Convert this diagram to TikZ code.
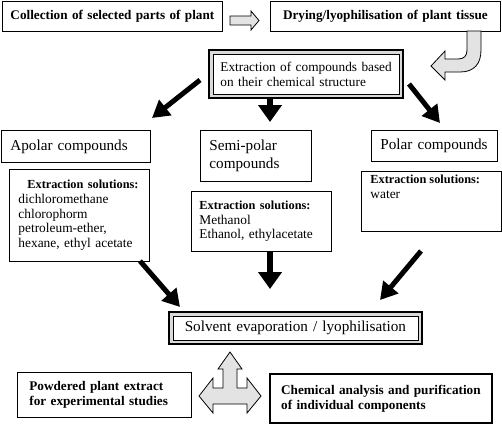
\documentclass[tikz,border=0pt]{standalone}
\usepackage{fontspec}
\setmainfont{Liberation Serif}
\usetikzlibrary{arrows.meta,backgrounds}
\newcommand\ExSolHead{{\fontsize{12.3}{14.7}\selectfont\bfseries Extraction solutions:}}
\begin{document}
\begin{tikzpicture}[x=1pt,y=-1pt,
  box/.style={draw, line width=0.8pt, anchor=north west, inner ysep=0pt, fill=white},
  fat/.style={line width=5pt, -{Triangle[width=19pt,length=17pt]}},
  fatm/.style={line width=6.5pt, -{Triangle[width=23pt,length=17pt]}},
  grey/.style={draw, line width=0.8pt, fill=gray!22},
  frame/.style={line width=1.8pt, fill=gray!30},
  bigf/.style={font=\fontsize{15.2}{18}\selectfont},
  midf/.style={font=\fontsize{13.3}{15}\selectfont},
  smf/.style={font=\fontsize{13.4}{14.7}\selectfont},
  bf/.style={font=\fontsize{13.2}{14.7}\selectfont\bfseries},
  ]
\useasboundingbox (0,0) rectangle (502,424);

% top row
\node[box, bf, minimum width=220pt, minimum height=30pt, text width=214pt, inner xsep=3pt, align=center] (b1) at (2,1) {Collection of selected parts of plant};
\node[box, bf, minimum width=230pt, minimum height=30pt, text width=224pt, inner xsep=3pt, align=center] (b2) at (270,1) {Drying/lyophilisation of plant tissue};

% extraction (double frame)
\node[box, midf, minimum width=186pt, minimum height=40pt, text width=174pt, inner xsep=6pt, align=left] (ext) at (212.5,53.5) {\hspace*{1.5pt}Extraction of compounds based\\\hspace*{1.5pt}on their chemical structure};
\begin{scope}[on background layer]
\draw[frame] ([shift={(-3.5pt,3.5pt)}]ext.north west) rectangle ([shift={(3.5pt,-3.5pt)}]ext.south east);
\end{scope}

% compound classes
\node[box, bigf, minimum width=149pt, minimum height=32pt, text width=135pt, inner xsep=7pt, align=left] (apo) at (1,130) {\hspace*{2pt}Apolar compounds};
\node[box, bigf, minimum width=111pt, minimum height=51pt, text width=97pt, inner xsep=7pt, align=left] (semi) at (200,130) {\hspace*{2pt}Semi-polar\\\hspace*{2pt}compounds};
\node[box, bigf, minimum width=126pt, minimum height=31pt, text width=112pt, inner xsep=7pt, align=left] (pol) at (371,130) {\hspace*{2pt}Polar compounds};

% extraction solutions
\node[box, smf, minimum width=140pt, minimum height=92pt, text width=126pt, inner xsep=7pt, align=left] (apox) at (9,169) {\hspace*{11pt}\ExSolHead\\\hspace*{2pt}dichloromethane\\\hspace*{2pt}chlorophorm\\\hspace*{2pt}petroleum-ether,\\\hspace*{2pt}hexane, ethyl acetate};
\node[box, smf, minimum width=140pt, minimum height=60pt, text width=126pt, inner xsep=7pt, align=left] (semix) at (191,191) {\hspace*{1pt}\ExSolHead\\\hspace*{1pt}Methanol\\\hspace*{1pt}Ethanol, ethylacetate};
\node[box, smf, minimum width=140pt, minimum height=60pt, inner xsep=7pt, inner ysep=4pt] (polx) at (361,171) {\parbox[c][52pt][t]{126pt}{\hspace*{2pt}\ExSolHead\\\hspace*{2pt}water}};

% solvent evaporation (double frame)
\node[box, bigf, minimum width=245pt, minimum height=24pt, text width=235pt, inner xsep=5pt, align=center] (solv) at (172.5,315.5) {Solvent evaporation / lyophilisation};
\begin{scope}[on background layer]
\draw[frame] ([shift={(-3.5pt,3.5pt)}]solv.north west) rectangle ([shift={(3.5pt,-3.5pt)}]solv.south east);
\end{scope}

% results
\node[box, bf, minimum width=174pt, minimum height=45pt, text width=160pt, inner xsep=7pt, align=left] (powd) at (17,372) {\hspace*{5pt}Powdered plant extract\\\hspace*{5pt}for experimental studies};
\node[box, bf, line width=2.3pt, minimum width=222pt, minimum height=49pt, text width=212pt, inner xsep=5pt, align=left] (chem) at (269,373) {\hspace*{6pt}Chemical analysis and purification\\\hspace*{6pt}of individual components};

% grey block arrows
\draw[grey] (230,16) -- (251,16) -- (251,11) -- (259,20.5) -- (251,30) -- (251,25) -- (230,25) -- cycle;
\draw[grey] (467,31) -- (467,50) .. controls (467,56) and (464,59) .. (458,59) -- (445,59) -- (445,51) -- (431,66) -- (445,80) -- (445,72) -- (460,72) .. controls (474,72) and (481,64) .. (481,50) -- (481,31) -- cycle;
\draw[grey] (230,352) -- (242,369) -- (237,369) -- (237,388) -- (247,388) -- (247,378) -- (261,396) -- (247,413) -- (247,404) -- (213,404) -- (213,413) -- (199,396) -- (213,378) -- (213,388) -- (223,388) -- (223,369) -- (218,369) -- cycle;

% black arrows
\coordinate (t1s) at (200,80); \coordinate (t1e) at (152,118);
\coordinate (t2s) at (270,97); \coordinate (t2e) at (270,122);
\coordinate (t3s) at (409,84); \coordinate (t3e) at (440,123);
\coordinate (d1s) at (140,261); \coordinate (d1e) at (180,307);
\coordinate (d2s) at (270,251); \coordinate (d2e) at (270,289);
\coordinate (d3s) at (421,251); \coordinate (d3e) at (380,300);
\draw[fat] (t1s) -- (t1e);
\draw[fatm] (t2s) -- (t2e);
\draw[fat] (t3s) -- (t3e);
\draw[fat] (d1s) -- (d1e);
\draw[fatm] (d2s) -- (d2e);
\draw[fat] (d3s) -- (d3e);
\end{tikzpicture}
\end{document}
